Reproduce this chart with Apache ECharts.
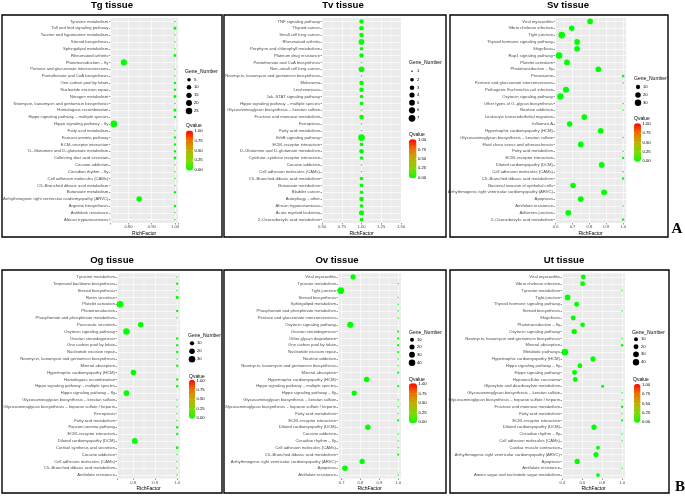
<!DOCTYPE html>
<html><head><meta charset="utf-8">
<script src="https://cdn.jsdelivr.net/npm/echarts@6/dist/echarts.min.js"></script>
<style>html,body{margin:0;padding:0;background:#fff}#c{width:685px;height:496px}</style>
</head><body><div id="c"></div>
<script>
// ---------------- DATA (top-to-bottom order as drawn) ----------------
const tgCategories = ['Tyrosine metabolism','Toll and Imd signaling pathway','Taurine and hypotaurine metabolism','Steroid biosynthesis','Sphingolipid metabolism','Rheumatoid arthritis','Phototransduction – fly','Pentose and glucuronate interconversions','Pantothenate and CoA biosynthesis','One carbon pool by folate','Nucleotide excision repair','Nitrogen metabolism','Neomycin, kanamycin and gentamicin biosynthesis','Homologous recombination','Hippo signaling pathway – multiple species','Hippo signaling pathway – fly','Fatty acid metabolism','Fanconi anemia pathway','ECM–receptor interaction','D–Glutamine and D–glutamate metabolism','Collecting duct acid secretion','Cocaine addiction','Circadian rhythm – fly','Cell adhesion molecules (CAMs)','C5–Branched dibasic acid metabolism','Butanoate metabolism','Arrhythmogenic right ventricular cardiomyopathy (ARVC)','Arginine biosynthesis','Antifolate resistance','African trypanosomiasis'];
const tgRichFactor = [1,1,1,1,1,1,0.78,1,1,1,1,1,1,1,1,0.737,1,1,1,1,1,1,1,1,1,1,0.846,1,1,1];
const tgGeneNumber = [1,3,1,1,1,3,22,1,1,2,2,3,1,3,2,27,1,2,2,2,3,1,1,1,1,2,17,2,1,1];
const tgQvalue = [0,0,0,0,0,0,0,0,0,0,0,0,0,0,0,0,0,0,0,0,0,0,0,0,0,0,0,0,0,0];
const tgTicks = ['0.80','0.90','1.00'];
const tgSizeBreaks = [5,10,15,20,25];

const tvCategories = ['TNF signaling pathway','Thyroid cancer','Small cell lung cancer','Rheumatoid arthritis','Porphyrin and chlorophyll metabolism','Platinum drug resistance','Pantothenate and CoA biosynthesis','Non–small cell lung cancer','Neomycin, kanamycin and gentamicin biosynthesis','Melanoma','Leishmaniasis','Jak–STAT signaling pathway','Hippo signaling pathway – multiple species','Glycosaminoglycan biosynthesis – keratan sulfate','Fructose and mannose metabolism','Ferroptosis','Fatty acid metabolism','ErbB signaling pathway','ECM–receptor interaction','D–Glutamine and D–glutamate metabolism','Cytokine–cytokine receptor interaction','Cocaine addiction','Cell adhesion molecules (CAMs)','C5–Branched dibasic acid metabolism','Butanoate metabolism','Bladder cancer','Autophagy – other','African trypanosomiasis','Acute myeloid leukemia','2–Oxocarboxylic acid metabolism'];
const tvRichFactor = [1,1,1,1,1,1,1,1,1,1,1,1,1,1,1,1,1,1,1,1,1,1,1,1,1,1,1,1,1,1];
const tvGeneNumber = [3,3,3,5,2,3,1,5,1,3,3,2,2,1,3,1,1,7,2,3,2,1,1,2,2,2,3,2,4,2];
const tvQvalue = [0,0,0,0,0,0,0,0,0,0,0,0,0,0,0,0,0,0,0,0,0,0,0,0,0,0,0,0,0,0];
const tvTicks = ['0.50','0.75','1.00','1.25','1.50'];
const tvSizeBreaks = [1,2,3,4,5,6,7];

const svCategories = ['Viral myocarditis','Vibrio cholerae infection','Tight junction','Thyroid hormone signaling pathway','Shigellosis','Rap1 signaling pathway','Platelet activation','Phototransduction – fly','Peroxisome','Pentose and glucuronate interconversions','Pathogenic Escherichia coli infection','Oxytocin signaling pathway','Other types of O–glycan biosynthesis','Nicotine addiction','Leukocyte transendothelial migration','Influenza A','Hypertrophic cardiomyopathy (HCM)','Glycosaminoglycan biosynthesis – keratan sulfate','Fluid shear stress and atherosclerosis','Fatty acid metabolism','ECM–receptor interaction','Dilated cardiomyopathy (DCM)','Cell adhesion molecules (CAMs)','C5–Branched dibasic acid metabolism','Bacterial invasion of epithelial cells','Arrhythmogenic right ventricular cardiomyopathy (ARVC)','Apoptosis','Antifolate resistance','Adherens junction','2–Oxocarboxylic acid metabolism'];
const svRichFactor = [0.804,0.695,0.636,0.727,0.727,0.62,0.667,0.853,1,1,0.661,0.628,1,1,0.77,0.683,0.867,1,0.749,1,1,0.873,1,1,0.703,0.887,0.749,1,0.675,1];
const svGeneNumber = [22,20,33,22,22,32,22,22,3,1,26,30,1,1,22,20,22,1,22,1,2,23,1,2,20,22,24,1,22,2];
const svQvalue = [0,0,0,0,0,0,0,0,0,0,0,0,0,0,0,0,0,0,0,0,0,0,0,0,0,0,0,0,0,0];
const svTicks = ['0.6','0.7','0.8','0.9','1.0'];
const svSizeBreaks = [10,20,30];

const ogCategories = ['Tyrosine metabolism','Terpenoid backbone biosynthesis','Steroid biosynthesis','Renin secretion','Platelet activation','Phototransduction','Phosphonate and phosphinate metabolism','Pancreatic secretion','Oxytocin signaling pathway','Ovarian steroidogenesis','One carbon pool by folate','Nucleotide excision repair','Neomycin, kanamycin and gentamicin biosynthesis','Mineral absorption','Hypertrophic cardiomyopathy (HCM)','Homologous recombination','Hippo signaling pathway – multiple species','Hippo signaling pathway – fly','Glycosaminoglycan biosynthesis – keratan sulfate','Glycosaminoglycan biosynthesis – heparan sulfate / heparin','Ferroptosis','Fatty acid metabolism','Fanconi anemia pathway','ECM–receptor interaction','Dilated cardiomyopathy (DCM)','Cortisol synthesis and secretion','Cocaine addiction','Cell adhesion molecules (CAMs)','C5–Branched dibasic acid metabolism','Antifolate resistance'];
const ogRichFactor = [1,1,1,1,0.74,1,1,0.834,0.769,1,1,1,1,1,0.801,1,1,0.769,1,1,1,1,1,1,0.807,1,1,1,1,1];
const ogGeneNumber = [1,2,1,4,32,2,1,20,30,2,2,2,1,2,20,2,2,22,1,1,1,1,2,2,22,3,1,1,1,1];
const ogQvalue = [0,0,0,0,0,0,0,0,0,0,0,0,0,0,0,0,0,0,0,0,0,0,0,0,0,0,0,0,0,0];
const ogTicks = ['0.8','0.9','1.0'];
const ogSizeBreaks = [10,20,30];

const ovCategories = ['Viral myocarditis','Tyrosine metabolism','Tight junction','Steroid biosynthesis','Sphingolipid metabolism','Phosphonate and phosphinate metabolism','Pentose and glucuronate interconversions','Oxytocin signaling pathway','Ovarian steroidogenesis','Other glycan degradation','One carbon pool by folate','Nucleotide excision repair','Nicotine addiction','Neomycin, kanamycin and gentamicin biosynthesis','Mineral absorption','Hypertrophic cardiomyopathy (HCM)','Hippo signaling pathway – multiple species','Hippo signaling pathway – fly','Glycosaminoglycan biosynthesis – keratan sulfate','Glycosaminoglycan biosynthesis – heparan sulfate / heparin','Fatty acid metabolism','ECM–receptor interaction','Dilated cardiomyopathy (DCM)','Cocaine addiction','Circadian rhythm – fly','Cell adhesion molecules (CAMs)','C5–Branched dibasic acid metabolism','Arrhythmogenic right ventricular cardiomyopathy (ARVC)','Apoptosis','Antifolate resistance'];
const ovRichFactor = [0.761,1,0.696,1,1,1,1,0.746,1,1,1,1,1,1,1,0.833,1,0.767,1,1,1,1,0.839,1,1,1,1,0.809,0.718,1];
const ovGeneNumber = [22,1,42,1,1,1,1,35,2,2,2,2,1,1,2,25,2,22,1,1,1,2,25,1,1,1,2,22,25,1];
const ovQvalue = [0,0,0,0,0,0,0,0,0,0,0,0,0,0,0,0,0,0,0,0,0,0,0,0,0,0,0,0,0,0];
const ovTicks = ['0.7','0.8','0.9','1.0'];
const ovSizeBreaks = [10,20,30,40];

const utCategories = ['Viral myocarditis','Vibrio cholerae infection','Tyrosine metabolism','Tight junction','Thyroid hormone signaling pathway','Steroid biosynthesis','Shigellosis','Phototransduction – fly','Oxytocin signaling pathway','Neomycin, kanamycin and gentamicin biosynthesis','Mineral absorption','Metabolic pathways','Hypertrophic cardiomyopathy (HCM)','Hippo signaling pathway – fly','Hippo signaling pathway','Hepatocellular carcinoma','Glyoxylate and dicarboxylate metabolism','Glycosaminoglycan biosynthesis – keratan sulfate','Glycosaminoglycan biosynthesis – heparan sulfate / heparin','Fructose and mannose metabolism','Fatty acid metabolism','ECM–receptor interaction','Dilated cardiomyopathy (DCM)','Circadian rhythm – fly','Cell adhesion molecules (CAMs)','Cardiac muscle contraction','Arrhythmogenic right ventricular cardiomyopathy (ARVC)','Apoptosis','Antifolate resistance','Amino sugar and nucleotide sugar metabolism'];
const utRichFactor = [0.609,0.602,1,0.451,0.542,1,0.508,0.602,0.518,1,1,0.424,0.707,0.575,0.521,0.528,0.804,1,1,1,1,1,0.717,1,1,0.757,0.737,0.548,1,0.757];
const utGeneNumber = [20,20,1,30,20,1,20,18,25,1,3,45,22,20,20,20,5,1,1,3,1,2,25,1,1,10,22,25,1,10];
const utQvalue = [0,0,0,0,0,0,0,0,0,0,0,0,0,0,0,0,0,0,0,0,0,0,0,0,0,0,0,0,0,0];
const utTicks = ['0.4','0.6','0.8','1.0'];
const utSizeBreaks = [10,20,30,40];

const qvalueTicks = ['1.00','0.75','0.50','0.25','0.00'];

// ---------------- LAYOUT ----------------
const FONT = '"Liberation Sans", Arial, sans-serif';
const panels = [
  {title:'Tg tissue', cats:tgCategories, rich:tgRichFactor, genes:tgGeneNumber, q:tgQvalue, ticks:tgTicks, breaks:tgSizeBreaks, dec:2,
   tx:112, ty:5, frame:[2,15,220,222], grid:[108,18,70,205], xr:[0.722,1.013], sn:3, gMax:27,
   leg:{gx:185, gy:72, dx:189, dys:[79.7,87.3,95.3,103,111], lx:194}, qv:{tx:186, ty:126, bx:186, by:130.5, bw:7, bh:40}},
  {title:'Tv tissue', cats:tvCategories, rich:tvRichFactor, genes:tvGeneNumber, q:tvQvalue, ticks:tvTicks, breaks:tvSizeBreaks, dec:2,
   tx:343, ty:5, frame:[224,15,222,222], grid:[322,18,79,205], xr:[0.5,1.5], sn:4, interval:0.25, gMax:7,
   leg:{gx:409, gy:63, dx:412, dys:[71.3,79.7,87.7,95,102.7,110.3,118.3], lx:417}, qv:{tx:409, ty:135, bx:409, by:139.3, bw:7.5, bh:39}},
  {title:'Sv tissue', cats:svCategories, rich:svRichFactor, genes:svGeneNumber, q:svQvalue, ticks:svTicks, breaks:svSizeBreaks, dec:1,
   tx:568, ty:5, frame:[450,15,218,222], grid:[555,18,71,205], xr:[0.596,1.017], sn:4, gMax:33,
   leg:{gx:634, gy:79, dx:638, dys:[87,95,102.7], lx:643}, qv:{tx:634, ty:119, bx:634, by:123.3, bw:7, bh:38.4}},
  {title:'Og tissue', cats:ogCategories, rich:ogRichFactor, genes:ogGeneNumber, q:ogQvalue, ticks:ogTicks, breaks:ogSizeBreaks, dec:1,
   tx:112, ty:260, frame:[2,270,220,223], grid:[117,273.5,63,205], xr:[0.726,1.013], sn:3, gMax:32,
   leg:{gx:188, gy:335.7, dx:192, dys:[343.3,351.3,359.3], lx:197}, qv:{tx:189, ty:376.5, bx:189, by:379.7, bw:6, bh:39}},
  {title:'Ov tissue', cats:ovCategories, rich:ovRichFactor, genes:ovGeneNumber, q:ovQvalue, ticks:ovTicks, breaks:ovSizeBreaks, dec:1,
   tx:337, ty:260, frame:[224,270,222,223], grid:[338,273.5,63,205], xr:[0.681,1.015], sn:3, gMax:42,
   leg:{gx:409, gy:332.3, dx:412, dys:[339.7,347,354.7,362.7], lx:417}, qv:{tx:409, ty:379.3, bx:409, by:383.3, bw:8, bh:39.7}},
  {title:'Ut tissue', cats:utCategories, rich:utRichFactor, genes:utGeneNumber, q:utQvalue, ticks:utTicks, breaks:utSizeBreaks, dec:1,
   tx:564, ty:260, frame:[450,270,219,223], grid:[562,273.5,63,205], xr:[0.395,1.029], sn:3, gMax:45,
   leg:{gx:632, gy:332.3, dx:636, dys:[339.3,346.7,354.3,362.3], lx:641}, qv:{tx:633, ty:379.3, bx:634, by:384, bw:6.5, bh:38.7}}
];

const sizeFn = (g, gMax) => 1.5 + 5.2 * Math.sqrt(Math.max(0, g - 1) / (gMax - 1));
const qColors = ['#00FF00','#6FE000','#A6C200','#D39A00','#F06000','#FF0000'];

const grids = [], xAxes = [], yAxes = [], series = [], visualMaps = [], graphics = [];
function txt(text, x, y, size, opts) {
  opts = opts || {};
  return {type:'text', silent:true, z:100, style:{text, x, y, fill: opts.fill || '#000',
    font: (opts.weight ? opts.weight + ' ' : '') + size + 'px ' + (opts.family || FONT),
    textAlign: opts.align || 'left', align: opts.align || 'left', textVerticalAlign:'middle', verticalAlign:'middle'}};
}
panels.forEach((p, i) => {
  grids.push({left:p.grid[0], top:p.grid[1], width:p.grid[2], height:p.grid[3], show:true, backgroundColor:'#EBEBEB', borderWidth:0, containLabel:false});
  const xa = {type:'value', gridIndex:i, min:p.xr[0], max:p.xr[1], splitNumber:p.sn,
    axisLine:{show:false}, axisTick:{show:true, length:1.5, lineStyle:{color:'#333', width:0.5}},
    axisLabel:{fontSize:4.2, color:'#4D4D4D', margin:2, fontFamily:FONT,
      formatter: v => { const s = v.toFixed(p.dec); return p.ticks.includes(s) ? s : ''; }},
    splitLine:{show:true, lineStyle:{color:'#FFFFFF', width:0.7}},
    minorTick:{show:false, splitNumber:2},
    minorSplitLine:{show:true, lineStyle:{color:'#FFFFFF', width:0.35}},
    name:'RichFactor', nameLocation:'middle', nameGap:8, nameTextStyle:{fontSize:5, color:'#000', fontFamily:FONT}};
  if (p.interval) xa.interval = p.interval;
  xAxes.push(xa);
  yAxes.push({type:'category', gridIndex:i, data:p.cats, inverse:true, boundaryGap:true,
    axisLine:{show:false}, axisTick:{show:true, alignWithLabel:true, interval:0, length:1.5, lineStyle:{color:'#333', width:0.5}},
    axisLabel:{interval:0, fontSize:4.2, color:'#4D4D4D', margin:2, fontFamily:FONT},
    splitLine:{show:true, alignWithLabel:true, interval:0, lineStyle:{color:'#FFFFFF', width:0.7}}});
  series.push({type:'scatter', xAxisIndex:i, yAxisIndex:i, silent:true, animation:false,
    data: p.cats.map((c, j) => [p.rich[j], c, p.genes[j], p.q[j]]),
    symbolSize: v => sizeFn(v[2], p.gMax), itemStyle:{opacity:1}});
  visualMaps.push({type:'continuous', seriesIndex:i, dimension:3, min:0, max:1, calculable:false,
    inRange:{color:qColors}, orient:'vertical', left:p.qv.bx, top:p.qv.by, itemWidth:p.qv.bw, itemHeight:p.qv.bh,
    padding:0, text:null, showLabel:false, hoverLink:false});
  graphics.push(txt(p.title, p.tx, p.ty, 9.6, {weight:'bold', align:'center'}));
  graphics.push({type:'rect', silent:true, z:90, shape:{x:p.frame[0], y:p.frame[1], width:p.frame[2], height:p.frame[3]},
    style:{fill:null, stroke:'#000', lineWidth:1.4}});
  graphics.push(txt('Gene_Number', p.leg.gx, p.leg.gy, 5));
  p.breaks.forEach((b, k) => {
    graphics.push({type:'circle', silent:true, z:100, shape:{cx:p.leg.dx, cy:p.leg.dys[k], r:sizeFn(b, p.gMax)/2}, style:{fill:'#000'}});
    graphics.push(txt(String(b), p.leg.lx, p.leg.dys[k], 4.2));
  });
  graphics.push(txt('Qvalue', p.qv.tx, p.qv.ty, 5));
  qvalueTicks.forEach((t, k) => {
    const y = p.qv.by + p.qv.bh * (k / (qvalueTicks.length - 1)) * 0.96 + p.qv.bh * 0.02;
    graphics.push(txt(t, p.qv.bx + p.qv.bw + 1.5, y, 4.2));
    graphics.push({type:'line', silent:true, z:100, shape:{x1:p.qv.bx, y1:y, x2:p.qv.bx + 1.2, y2:y}, style:{stroke:'#fff', lineWidth:0.4}});
    graphics.push({type:'line', silent:true, z:100, shape:{x1:p.qv.bx + p.qv.bw - 1.2, y1:y, x2:p.qv.bx + p.qv.bw, y2:y}, style:{stroke:'#fff', lineWidth:0.4}});
  });
});
graphics.push(txt('A', 677, 229, 15, {weight:'bold', align:'center', family:'"Liberation Serif", "Times New Roman", serif'}));
graphics.push(txt('B', 680, 487, 15, {weight:'bold', align:'center', family:'"Liberation Serif", "Times New Roman", serif'}));

const chart = echarts.init(document.getElementById('c'), null, {renderer:'canvas'});
chart.setOption({animation:false, backgroundColor:'#fff', grid:grids, xAxis:xAxes, yAxis:yAxes, series, visualMap:visualMaps, graphic:graphics});
</script></body></html>
